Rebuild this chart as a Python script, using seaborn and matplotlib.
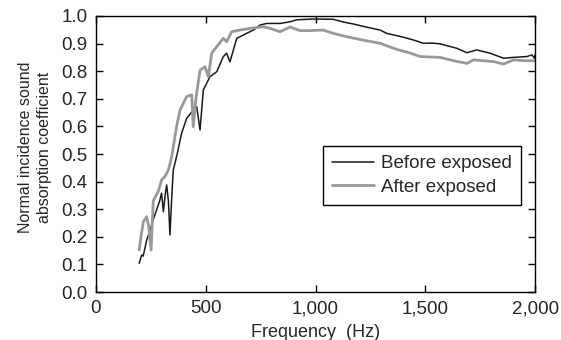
import numpy as np
import pandas as pd
import matplotlib
matplotlib.use('Agg')
import matplotlib.pyplot as plt
import seaborn as sns
from matplotlib.ticker import FuncFormatter, MultipleLocator

# %% data
freq_before = [197, 208, 215, 231, 245, 260, 276, 290, 299, 307,
               315, 322, 330, 337, 345, 352, 370, 390, 413, 443,
               459, 474, 489, 519, 550, 580, 595, 610, 626, 641,
               686, 717, 747, 778, 838, 884, 914, 990, 1081, 1127,
               1172, 1230, 1294, 1324, 1390, 1446, 1491, 1530, 1567, 1643,
               1689, 1734, 1795, 1856, 1901, 1962, 1985, 1997, 2000]
alpha_before = [0.104, 0.134, 0.13, 0.188, 0.22, 0.26, 0.297, 0.33, 0.358, 0.291,
                0.35, 0.388, 0.33, 0.207, 0.34, 0.442, 0.50, 0.575, 0.629, 0.659,
                0.671, 0.587, 0.732, 0.78, 0.798, 0.853, 0.865, 0.834, 0.877, 0.919,
                0.937, 0.949, 0.967, 0.973, 0.973, 0.979, 0.986, 0.989, 0.988, 0.978,
                0.971, 0.96, 0.949, 0.937, 0.925, 0.913, 0.901, 0.902, 0.899, 0.883,
                0.867, 0.877, 0.865, 0.847, 0.850, 0.853, 0.859, 0.847, 0.86]

freq_after = [197, 205, 216, 231, 240, 251, 261, 284, 299, 314,
              330, 345, 367, 383, 413, 436, 443, 455, 474, 497,
              512, 527, 550, 580, 595, 618, 656, 702, 762, 793,
              838, 884, 929, 975, 1035, 1081, 1142, 1220, 1294, 1370,
              1430, 1476, 1567, 1628, 1689, 1719, 1760, 1810, 1856, 1901,
              1950, 2000]
alpha_after = [0.152, 0.20, 0.255, 0.273, 0.24, 0.152, 0.33, 0.365, 0.406, 0.418,
               0.442, 0.49, 0.599, 0.659, 0.708, 0.714, 0.599, 0.70, 0.804, 0.816,
               0.78, 0.865, 0.889, 0.919, 0.907, 0.943, 0.949, 0.955, 0.961, 0.955,
               0.943, 0.96, 0.947, 0.947, 0.949, 0.937, 0.925, 0.912, 0.901, 0.879,
               0.866, 0.853, 0.850, 0.838, 0.828, 0.841, 0.838, 0.835, 0.826, 0.841,
               0.838, 0.838]

x_ticks = [0, 500, 1000, 1500, 2000]

# %% plot
sns.set_style('ticks')
plt.rcParams['font.family'] = ['Liberation Sans', 'DejaVu Sans']
plt.rcParams['xtick.direction'] = 'in'
plt.rcParams['ytick.direction'] = 'in'

fig = plt.figure(figsize=(5.61, 3.40), dpi=100)
ax = fig.add_axes([0.171, 0.141, 0.783, 0.812])

sns.lineplot(x=freq_before, y=alpha_before, color='#1a1a1a', linewidth=1.1,
             estimator=None, ax=ax, label='Before exposed')
sns.lineplot(x=freq_after, y=alpha_after, color='#999999', linewidth=2.0,
             estimator=None, ax=ax, label='After exposed')

ax.set_xlim(0, 2000)
ax.set_ylim(0, 1.0)
ax.set_xticks(x_ticks)
ax.xaxis.set_major_formatter(FuncFormatter(lambda v, p: f'{int(v):,}'))
ax.yaxis.set_major_locator(MultipleLocator(0.1))
ax.yaxis.set_major_formatter(FuncFormatter(lambda v, p: f'{v:.1f}'))
ax.tick_params(top=True, right=True, length=5, width=1, labelsize=13.5,
               color='black', pad=6)
for s in ax.spines.values():
    s.set_linewidth(1)
    s.set_color('black')

ax.set_xlabel('Frequency  (Hz)', fontsize=13, labelpad=5)
ax.set_ylabel('Normal incidence sound\nabsorption coefficient', fontsize=11.5,
              linespacing=1.3)
ax.yaxis.set_label_coords(-0.1, 0.524)

leg = ax.legend(loc='upper left', bbox_to_anchor=(0.517, 0.53), fontsize=13.5,
                frameon=True, fancybox=False, edgecolor='black',
                handlelength=2.2, handletextpad=0.4, borderpad=0.5,
                labelspacing=0.35, borderaxespad=0, framealpha=1)
leg.get_frame().set_linewidth(1)

plt.savefig('out.png', dpi=100)
